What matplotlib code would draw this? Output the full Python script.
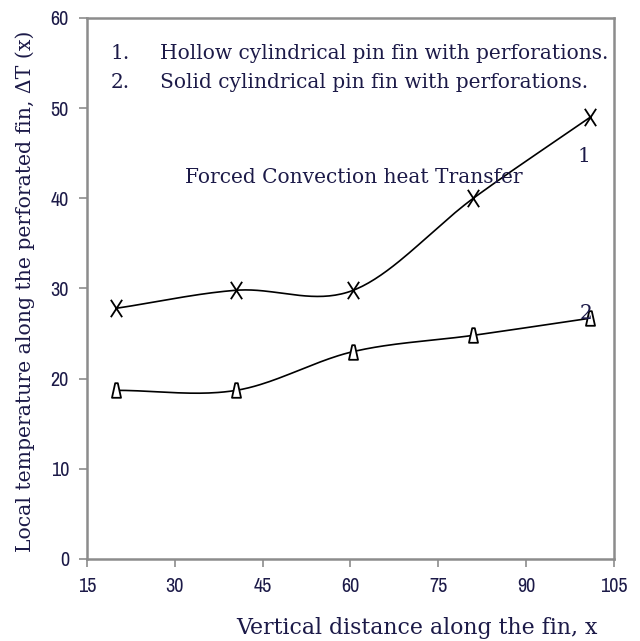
import numpy as np
import matplotlib
matplotlib.use("Agg")
import matplotlib.pyplot as plt
from matplotlib import font_manager as fm
from matplotlib.path import Path

# Data
x_pos = [20, 40.5, 60.5, 81, 101]
hollow = [27.8, 29.8, 29.8, 40.0, 49.0]
solid = [18.7, 18.7, 23.0, 24.8, 26.7]
x_ticks = [15, 30, 45, 60, 75, 90, 105]
y_ticks = [0, 10, 20, 30, 40, 50, 60]

TXT = "#1c1a48"
SERIF = ["DejaVu Serif"]

names = sorted({f.name for f in fm.fontManager.ttflist})
cond = [n for n in names if "Condensed" in n or "Narrow" in n]
NARROW = cond[:1] + ["DejaVu Serif"] if cond else ["DejaVu Serif"]

# tall X and narrow triangle markers
X_MARK = Path([(-0.65, -1), (0.65, 1), (-0.65, 1), (0.65, -1)],
              [Path.MOVETO, Path.LINETO, Path.MOVETO, Path.LINETO])
TRI_MARK = Path([(-0.62, -1), (0.62, -1), (0.18, 1), (-0.18, 1), (-0.62, -1)],
                [Path.MOVETO, Path.LINETO, Path.LINETO, Path.LINETO, Path.CLOSEPOLY])


def smooth(xs, ys, n=40):
    xs = np.asarray(xs, float); ys = np.asarray(ys, float)
    P = np.column_stack([xs, ys])
    P = np.vstack([P[0] - (P[1] - P[0]), P, P[-1] + (P[-1] - P[-2])])
    out = []
    for i in range(1, len(P) - 2):
        p0, p1, p2, p3 = P[i - 1], P[i], P[i + 1], P[i + 2]
        t = np.linspace(0, 1, n)[:, None]
        seg = 0.5 * ((2 * p1) + (-p0 + p2) * t + (2 * p0 - 5 * p1 + 4 * p2 - p3) * t ** 2
                     + (-p0 + 3 * p1 - 3 * p2 + p3) * t ** 3)
        out.append(seg)
    S = np.vstack(out)
    return S[:, 0], S[:, 1]


fig = plt.figure(figsize=(6.4, 6.41), dpi=100)
ax = fig.add_axes([0.136, 0.128, 0.823, 0.844])

for ys, mk, ms in [(hollow, X_MARK, 12.5), (solid, TRI_MARK, 10.5)]:
    sx, sy = smooth(x_pos, ys)
    ax.plot(sx, sy, color="black", lw=1.2, zorder=2)
    ax.plot(x_pos, ys, linestyle="none", marker=mk, ms=ms, mew=1.3,
            mec="black", mfc="white", zorder=3)

ax.set_xlim(15, 105)
ax.set_ylim(0, 60)
ax.set_xticks(x_ticks)
ax.set_yticks(y_ticks)
ax.set_xticklabels([str(v) for v in x_ticks], family=NARROW, fontsize=14.5, color=TXT)
ax.set_yticklabels([str(v) for v in y_ticks], family=NARROW, fontsize=14.5, color=TXT)
for s in ax.spines.values():
    s.set_color("#8c8c8c")
    s.set_linewidth(1.8)
ax.tick_params(direction="out", length=6, width=1.2, color="#8c8c8c", pad=7)

FS = 14.5
ax.text(0.045, 0.935, "1.", transform=ax.transAxes, family=SERIF, fontsize=FS, color=TXT, va="center")
ax.text(0.138, 0.935, "Hollow cylindrical pin fin with perforations.", transform=ax.transAxes,
        family=SERIF, fontsize=FS, color=TXT, va="center")
ax.text(0.045, 0.88, "2.", transform=ax.transAxes, family=SERIF, fontsize=FS, color=TXT, va="center")
ax.text(0.138, 0.88, "Solid cylindrical pin fin with perforations.", transform=ax.transAxes,
        family=SERIF, fontsize=FS, color=TXT, va="center")
ax.text(60.6, 42.3, "Forced Convection heat Transfer", family=SERIF, fontsize=FS, color=TXT,
        ha="center", va="center")
ax.text(99.9, 44.6, "1", family=SERIF, fontsize=FS, color=TXT, ha="center", va="center")
ax.text(100.3, 27.2, "2", family=SERIF, fontsize=FS, color=TXT, ha="center", va="center")

fig.text(0.039, 0.545, "Local temperature along the perforated fin, \u0394T (x)", rotation=90,
         family=SERIF, fontsize=14.7, color=TXT, ha="center", va="center")
fig.text(0.652, 0.021, "Vertical distance along the fin, x", family=SERIF, fontsize=15.8,
         color=TXT, ha="center", va="center")

fig.savefig("out.png", dpi=100)
